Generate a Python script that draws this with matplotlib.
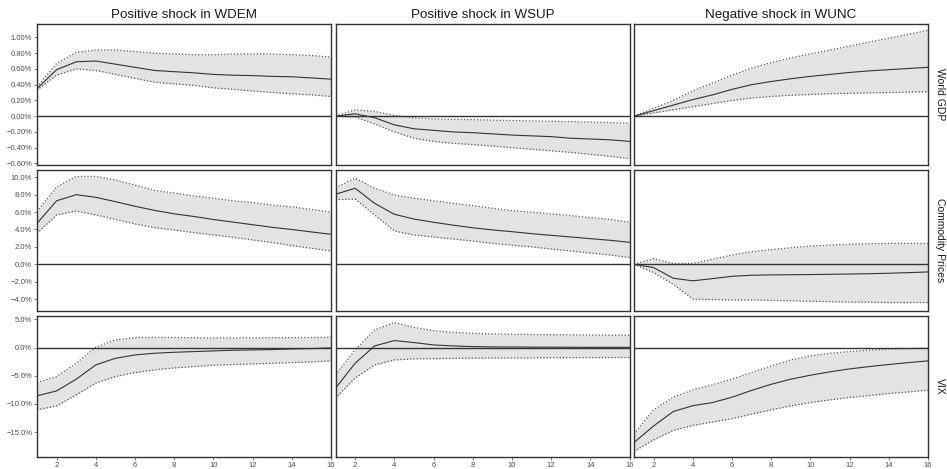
import matplotlib
matplotlib.use("Agg")
import matplotlib.pyplot as plt
import numpy as np

plt.rcParams["font.family"] = ["Liberation Sans", "DejaVu Sans"]

horizon = np.arange(1, 17)

shocks = ["Positive shock in WDEM", "Positive shock in WSUP", "Negative shock in WUNC"]
responses = ["World GDP", "Commodity Prices", "VIX"]

# World GDP responses (%)
gdp_wdem_med = [0.35, 0.59, 0.69, 0.70, 0.66, 0.62, 0.58, 0.565, 0.55, 0.53, 0.52, 0.515, 0.505, 0.50, 0.485, 0.47]
gdp_wdem_up = [0.37, 0.67, 0.81, 0.84, 0.84, 0.82, 0.80, 0.79, 0.78, 0.78, 0.79, 0.79, 0.79, 0.78, 0.77, 0.75]
gdp_wdem_lo = [0.33, 0.52, 0.60, 0.58, 0.53, 0.48, 0.43, 0.41, 0.39, 0.36, 0.34, 0.32, 0.30, 0.285, 0.27, 0.25]

gdp_wsup_med = [0.0, 0.03, -0.02, -0.11, -0.16, -0.18, -0.20, -0.21, -0.225, -0.24, -0.25, -0.26, -0.28, -0.29, -0.30, -0.32]
gdp_wsup_up = [0.0, 0.08, 0.06, 0.01, -0.02, -0.035, -0.04, -0.045, -0.05, -0.055, -0.06, -0.065, -0.07, -0.075, -0.08, -0.09]
gdp_wsup_lo = [0.0, -0.01, -0.10, -0.20, -0.28, -0.32, -0.345, -0.36, -0.38, -0.40, -0.42, -0.44, -0.46, -0.485, -0.51, -0.54]

gdp_wunc_med = [0.0, 0.07, 0.14, 0.21, 0.27, 0.34, 0.40, 0.44, 0.475, 0.505, 0.53, 0.555, 0.575, 0.59, 0.605, 0.62]
gdp_wunc_up = [0.0, 0.10, 0.20, 0.32, 0.42, 0.52, 0.61, 0.68, 0.74, 0.79, 0.84, 0.89, 0.94, 0.99, 1.04, 1.09]
gdp_wunc_lo = [0.0, 0.04, 0.08, 0.12, 0.16, 0.20, 0.23, 0.25, 0.265, 0.275, 0.285, 0.29, 0.295, 0.30, 0.305, 0.31]

# Commodity price responses (%)
com_wdem_med = [4.7, 7.3, 8.0, 7.7, 7.2, 6.67, 6.2, 5.8, 5.5, 5.15, 4.85, 4.55, 4.25, 4.0, 3.72, 3.45]
com_wdem_up = [6.05, 8.9, 10.1, 10.1, 9.7, 9.1, 8.5, 8.2, 7.85, 7.6, 7.3, 7.1, 6.8, 6.6, 6.3, 6.0]
com_wdem_lo = [3.56, 5.67, 6.13, 5.67, 5.17, 4.64, 4.2, 3.95, 3.64, 3.37, 3.1, 2.8, 2.5, 2.15, 1.84, 1.53]

com_wsup_med = [8.05, 8.74, 7.0, 5.75, 5.2, 4.83, 4.5, 4.2, 3.95, 3.75, 3.52, 3.33, 3.14, 2.95, 2.76, 2.53]
com_wsup_up = [8.8, 9.9, 8.74, 7.97, 7.6, 7.3, 7.0, 6.74, 6.44, 6.17, 5.98, 5.8, 5.6, 5.36, 5.17, 4.83]
com_wsup_lo = [7.43, 7.5, 5.67, 3.83, 3.37, 3.14, 2.9, 2.68, 2.4, 2.2, 2.0, 1.76, 1.53, 1.3, 1.07, 0.77]

com_wunc_med = [0.0, -0.38, -1.6, -1.9, -1.65, -1.38, -1.26, -1.22, -1.2, -1.18, -1.15, -1.12, -1.08, -1.03, -0.96, -0.88]
com_wunc_up = [0.0, 0.65, 0.1, 0.1, 0.57, 1.07, 1.45, 1.68, 1.9, 2.1, 2.2, 2.3, 2.37, 2.4, 2.4, 2.4]
com_wunc_lo = [0.0, -0.95, -2.3, -4.0, -4.05, -4.1, -4.1, -4.15, -4.2, -4.25, -4.3, -4.35, -4.35, -4.4, -4.4, -4.4]

# VIX responses (%)
vix_wdem_med = [-8.56, -7.68, -5.6, -3.07, -1.9, -1.3, -1.0, -0.83, -0.71, -0.59, -0.47, -0.41, -0.35, -0.24, -0.18, -0.06]
vix_wdem_up = [-6.2, -5.14, -2.78, 0.06, 1.36, 1.77, 1.83, 1.8, 1.75, 1.7, 1.7, 1.72, 1.75, 1.78, 1.8, 1.83]
vix_wdem_lo = [-11.05, -10.34, -8.4, -6.3, -5.14, -4.43, -3.96, -3.6, -3.37, -3.13, -3.0, -2.9, -2.78, -2.66, -2.54, -2.36]

vix_wsup_med = [-7.2, -2.78, 0.3, 1.24, 0.89, 0.47, 0.3, 0.18, 0.12, 0.1, 0.08, 0.07, 0.06, 0.05, 0.05, 0.05]
vix_wsup_up = [-4.84, -0.41, 3.13, 4.43, 3.6, 3.0, 2.7, 2.54, 2.42, 2.36, 2.32, 2.28, 2.25, 2.22, 2.2, 2.19]
vix_wsup_lo = [-8.98, -5.43, -3.07, -2.19, -2.0, -1.95, -1.9, -1.88, -1.86, -1.84, -1.82, -1.8, -1.79, -1.78, -1.77, -1.77]

vix_wunc_med = [-16.83, -13.9, -11.34, -10.3, -9.75, -8.8, -7.6, -6.5, -5.6, -4.9, -4.3, -3.78, -3.37, -3.0, -2.66, -2.36]
vix_wunc_up = [-15.3, -11.05, -8.8, -7.5, -6.6, -5.6, -4.43, -3.25, -2.19, -1.48, -1.0, -0.71, -0.47, -0.3, -0.18, -0.06]
vix_wunc_lo = [-18.4, -16.36, -14.7, -13.8, -13.2, -12.6, -11.8, -11.05, -10.34, -9.75, -9.27, -8.86, -8.5, -8.15, -7.86, -7.56]

panels = [
    [(gdp_wdem_med, gdp_wdem_lo, gdp_wdem_up),
     (gdp_wsup_med, gdp_wsup_lo, gdp_wsup_up),
     (gdp_wunc_med, gdp_wunc_lo, gdp_wunc_up)],
    [(com_wdem_med, com_wdem_lo, com_wdem_up),
     (com_wsup_med, com_wsup_lo, com_wsup_up),
     (com_wunc_med, com_wunc_lo, com_wunc_up)],
    [(vix_wdem_med, vix_wdem_lo, vix_wdem_up),
     (vix_wsup_med, vix_wsup_lo, vix_wsup_up),
     (vix_wunc_med, vix_wunc_lo, vix_wunc_up)],
]

row_limits = [(-0.62, 1.17), (-5.37, 10.84), (-19.4, 5.6)]
row_ticks = [np.arange(-0.6, 1.01, 0.2), np.arange(-4, 10.1, 2), np.arange(-15, 5.1, 5)]
row_decimals = [2, 1, 1]
x_ticks = [2, 4, 6, 8, 10, 12, 14, 16]

W, H = 947, 469
fig = plt.figure(figsize=(W / 100, H / 100), dpi=100)

col_left = [37, 335.5, 634]
col_width = 294
row_top = [24, 170, 316]
row_height = 141

border = "#333333"
tick_col = "#4d4d4d"


def pct(v, d):
    s = f"{abs(v):.{d}f}%"
    if round(v, d) < 0:
        s = "\u2212" + s
    return s


for r in range(3):
    for c in range(3):
        x0 = col_left[c] / W
        y0 = 1 - (row_top[r] + row_height) / H
        ax = fig.add_axes([x0, y0, col_width / W, row_height / H])
        med, lo, up = panels[r][c]
        ax.fill_between(horizon, lo, up, color="#e3e3e3", linewidth=0, zorder=1)
        ax.plot(horizon, up, color="#555555", linestyle=(0, (1, 1.6)), linewidth=0.9, zorder=2)
        ax.plot(horizon, lo, color="#555555", linestyle=(0, (1, 1.6)), linewidth=0.9, zorder=2)
        ax.axhline(0, color="#333333", linewidth=1.0, zorder=3)
        ax.plot(horizon, med, color="#333333", linewidth=0.8, zorder=4)
        ax.set_xlim(1, 16)
        ax.set_ylim(*row_limits[r])
        for s in ax.spines.values():
            s.set_color(border)
            s.set_linewidth(1.0)
        ax.set_xticks(x_ticks)
        ax.set_yticks(row_ticks[r])
        ax.tick_params(axis="both", length=2, width=0.5, color=tick_col,
                       labelsize=5.5, labelcolor=tick_col, pad=1.5)
        if r == 2:
            ax.set_xticklabels([str(t) for t in x_ticks])
        else:
            ax.tick_params(axis="x", length=0, labelbottom=False)
        if c == 0:
            ax.set_yticklabels([pct(t, row_decimals[r]) for t in row_ticks[r]])
        else:
            ax.tick_params(axis="y", length=0, labelleft=False)
        if r == 0:
            ax.set_title(shocks[c], fontsize=9.6, color="#1a1a1a", pad=4)
        if c == 2:
            ax.text(1.025, 0.5, responses[r], transform=ax.transAxes, rotation=270,
                    ha="left", va="center", fontsize=7.5, color="#1a1a1a")

fig.savefig("out.png", dpi=100)
